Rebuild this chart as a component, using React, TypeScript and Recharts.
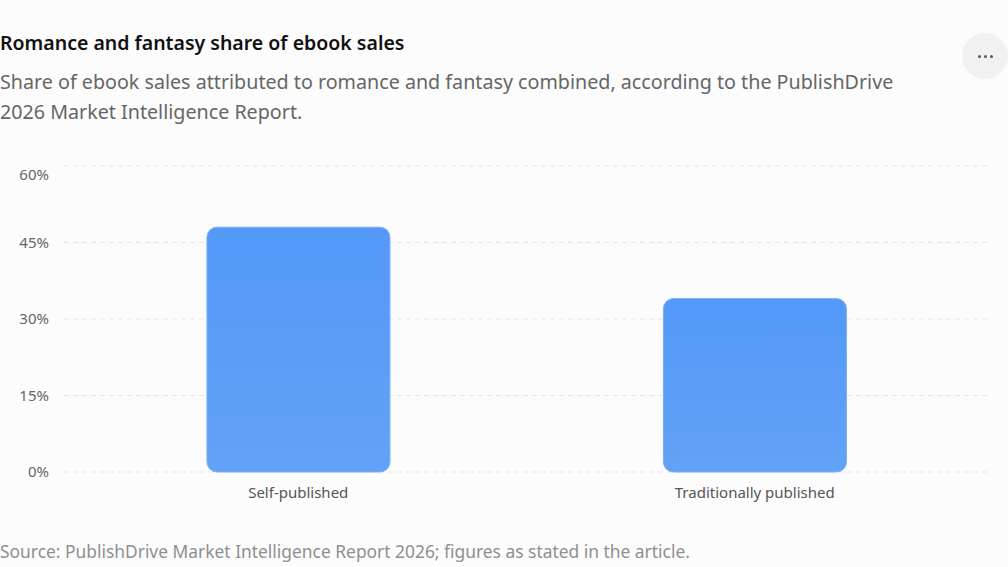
import React from 'react';
import { BarChart, Bar, XAxis, YAxis, CartesianGrid } from 'recharts';

const categories = ['Self-published', 'Traditionally published'];
const shareValues = [48, 34];
const yTicks = [0, 15, 30, 45, 60];

const data = categories.map((name, i) => ({ name, share: shareValues[i] }));

const FONT = '"Segoe UI", "Noto Sans", "Open Sans", sans-serif';

const YTick = ({ x, y, payload }: any) => {
    // the top label sits a little below its gridline
    const shift = payload.value === 60 ? 9 : 0;
    return (
        <text x={x} y={y + shift} dy="0.355em" textAnchor="end" fill="#666" fontSize={15} fontFamily={FONT}>
            {`${payload.value}%`}
        </text>
    );
};

export default function App() {
    return (
        <div
            style={{
                position: 'absolute',
                left: 0,
                top: 0,
                width: 1008,
                height: 567,
                background: '#fcfcfc',
                fontFamily: FONT,
                overflow: 'hidden',
            }}
        >
            <div style={{ position: 'absolute', left: 0, top: 30, fontSize: 19.5, lineHeight: '26px', fontWeight: 600, color: '#111' }}>
                Romance and fantasy share of ebook sales
            </div>
            <div style={{ position: 'absolute', left: 0, top: 67, width: 920, fontSize: 19.7, lineHeight: '30px', color: '#666' }}>
                Share of ebook sales attributed to romance and fantasy combined, according to the PublishDrive 2026 Market Intelligence Report.
            </div>
            <div
                style={{
                    position: 'absolute',
                    left: 962,
                    top: 33,
                    width: 46,
                    height: 46,
                    borderRadius: '50%',
                    background: '#f1f1f1',
                    display: 'flex',
                    alignItems: 'center',
                    justifyContent: 'center',
                    gap: 3,
                }}
            >
                {[0, 1, 2].map((i) => (
                    <div key={i} style={{ width: 3, height: 3, borderRadius: '50%', background: '#555' }} />
                ))}
            </div>

            <div style={{ position: 'absolute', left: 0, top: 140 }}>
                <BarChart
                    width={1008}
                    height={380}
                    data={data}
                    margin={{ top: 26, right: 21, left: 0, bottom: 8 }}
                    barCategoryGap="30%"
                >
                    <defs>
                        <linearGradient id="barFill" x1="0" y1="0" x2="0" y2="1">
                            <stop offset="0%" stopColor="#5499f8" />
                            <stop offset="100%" stopColor="#62a2f6" />
                        </linearGradient>
                    </defs>
                    <CartesianGrid vertical={false} stroke="#e6e6e6" strokeDasharray="5 4" />
                    <XAxis
                        dataKey="name"
                        axisLine={false}
                        tickLine={false}
                        tickSize={0}
                        tickMargin={15}
                        height={40}
                        padding={{ left: 6, right: 4 }}
                        tick={{ fill: '#555', fontSize: 15, fontFamily: FONT }}
                    />
                    <YAxis
                        domain={[0, 60]}
                        ticks={yTicks}
                        width={64}
                        axisLine={false}
                        tickLine={false}
                        tickSize={0}
                        tickMargin={15}
                        tick={<YTick />}
                    />
                    <Bar
                        dataKey="share"
                        fill="url(#barFill)"
                        stroke="#7aaef6"
                        strokeWidth={1}
                        radius={[10, 10, 10, 10]}
                        isAnimationActive={false}
                    />
                </BarChart>
            </div>

            <div style={{ position: 'absolute', left: 0, top: 539, fontSize: 17.4, lineHeight: '24px', color: '#8f8f8f' }}>
                Source: PublishDrive Market Intelligence Report 2026; figures as stated in the article.
            </div>
        </div>
    );
}
